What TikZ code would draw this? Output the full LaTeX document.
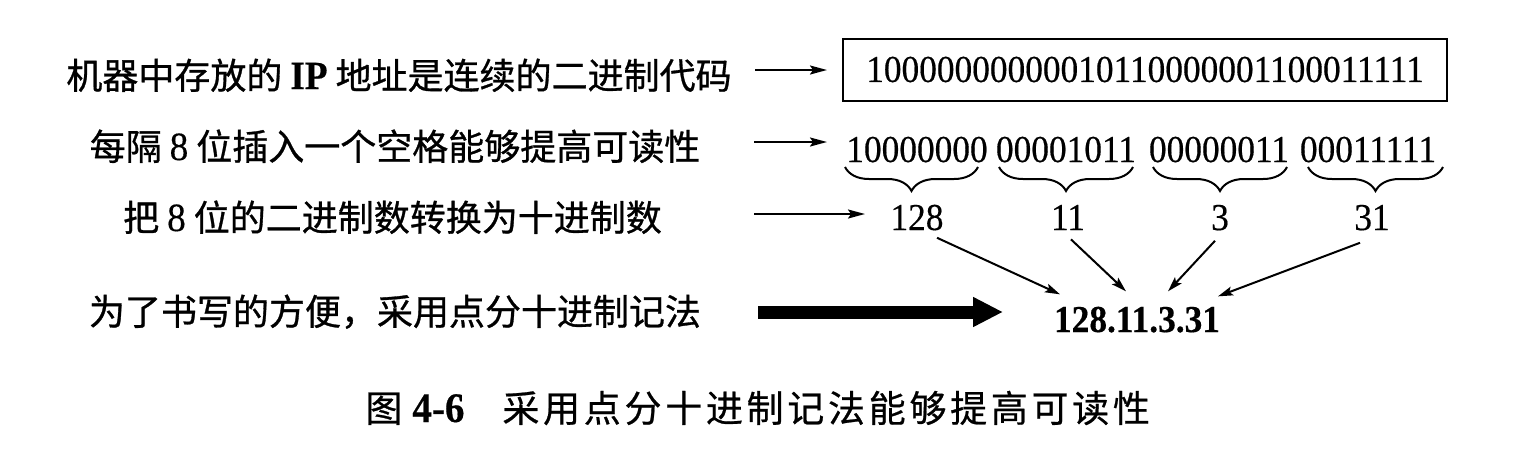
\documentclass[tikz,border=0pt]{standalone}
\usepackage{fontspec}
\setmainfont{Liberation Serif}
\newfontfamily\cjk[FakeBold=0.8]{Noto Sans CJK SC}
\newfontfamily\cjkcap[LetterSpace=10,FakeBold=0.6]{Noto Sans CJK SC}
\newfontfamily\latf[FakeStretch=0.93,FakeBold=0.4]{Liberation Serif}
\usetikzlibrary{arrows.meta,decorations.pathreplacing,calc}
\tikzset{
  lab/.style={inner sep=0pt, font=\cjk\fontsize{18pt}{20pt}\selectfont, anchor=base},
  bin/.style={inner sep=0pt, font=\latf\fontsize{19pt}{22pt}\selectfont, anchor=base},
  binb/.style={inner sep=0pt, font=\latf\bfseries\fontsize{19pt}{22pt}\selectfont, anchor=base},
  thinarr/.style={line width=1pt, -{Stealth[length=8.5pt,width=4.5pt,inset=1.5pt]}},
  diagarr/.style={line width=1pt, -{Stealth[length=7.5pt,width=4.5pt,inset=1.5pt]}},
  thickarr/.style={line width=6.5pt, -{Triangle[length=15pt,width=14pt]}},
  bracestyle/.style={line width=1pt, decorate, decoration={brace, amplitude=12pt}},
}
\begin{document}
\begin{tikzpicture}[x=0.5pt,y=-0.5pt]
\useasboundingbox (0,0) rectangle (1514,472);
\fill[white] (0,0) rectangle (1514,472);

% left column texts
\node[lab] (L1) at (399,89) {机器中存放的\hspace{4pt}{\latf\bfseries\fontsize{20pt}{20pt}\selectfont IP}\hspace{4pt}地址是连续的二进制代码};
\node[lab] (L2) at (395,160) {每隔\hspace{4pt}{\latf\fontsize{20pt}{20pt}\selectfont 8}\hspace{4pt}位插入一个空格能够提高可读性};
\node[lab] (L3) at (392.5,231) {把\hspace{4pt}{\latf\fontsize{20pt}{20pt}\selectfont 8}\hspace{4pt}位的二进制数转换为十进制数};
\node[lab] (L4) at (395,325) {为了书写的方便，采用点分十进制记法};

% row 1 box
\node[bin, anchor=center, draw, line width=1pt, minimum width=302pt, minimum height=31pt] (box) at (1145,69.5) {10000000000010110000001100011111};

% row 2 groups
\node[bin] (g1) at (917,162) {10000000};
\node[bin] (g2) at (1066,162) {00001011};
\node[bin] (g3) at (1219,162) {00000011};
\node[bin] (g4) at (1368,162) {00011111};

% braces
\coordinate (b1l) at (845,167);  \coordinate (b1r) at (978,167);
\coordinate (b2l) at (999,167);  \coordinate (b2r) at (1133,167);
\coordinate (b3l) at (1153,167); \coordinate (b3r) at (1287,167);
\coordinate (b4l) at (1308,167); \coordinate (b4r) at (1443,167);
\draw[bracestyle] (b1r) -- (b1l);
\draw[bracestyle] (b2r) -- (b2l);
\draw[bracestyle] (b3r) -- (b3l);
\draw[bracestyle] (b4r) -- (b4l);

% row 3 decimals
\node[bin] (n128) at (917,230) {128};
\node[bin] (n11) at (1068,230) {11};
\node[bin] (n3) at (1220,230) {3};
\node[bin] (n31) at (1372,230) {31};

% dotted decimal
\node[binb] (ip) at (1137,332) {128.11.3.31};

% horizontal arrows
\coordinate (h1s) at (755,70);  \coordinate (h1e) at (827,70);
\coordinate (h2s) at (754,142); \coordinate (h2e) at (827,142);
\coordinate (h3s) at (754,214); \coordinate (h3e) at (865,214);
\coordinate (h4s) at (758,312); \coordinate (h4e) at (1003,312);
\draw[thinarr] (h1s) -- (h1e);
\draw[thinarr] (h2s) -- (h2e);
\draw[thinarr] (h3s) -- (h3e);
\draw[thickarr] (h4s) -- (h4e);

% converging arrows
\draw[diagarr] ($(n128.south)+(20,7)$) -- ($(ip.north)+(-77,-12)$);
\draw[diagarr] ($(n11.south)+(3,9)$) -- ($(ip.north)+(-11,-15)$);
\draw[diagarr] ($(n3.south)+(-5,10)$) -- ($(ip.north)+(31,-15)$);
\draw[diagarr] ($(n31.south)+(-12,12)$) -- ($(ip.north)+(81,-10)$);

% caption
\node[anchor=base west, inner sep=0pt] (cap) at (365,422) {{\cjk\fontsize{18.5pt}{20pt}\selectfont 图}\hspace{5pt}{\latf\bfseries\fontsize{21pt}{22pt}\selectfont 4-6}\hspace{19pt}{\cjkcap\fontsize{18.5pt}{20pt}\selectfont 采用点分十进制记法能够提高可读性}};
\end{tikzpicture}
\end{document}
